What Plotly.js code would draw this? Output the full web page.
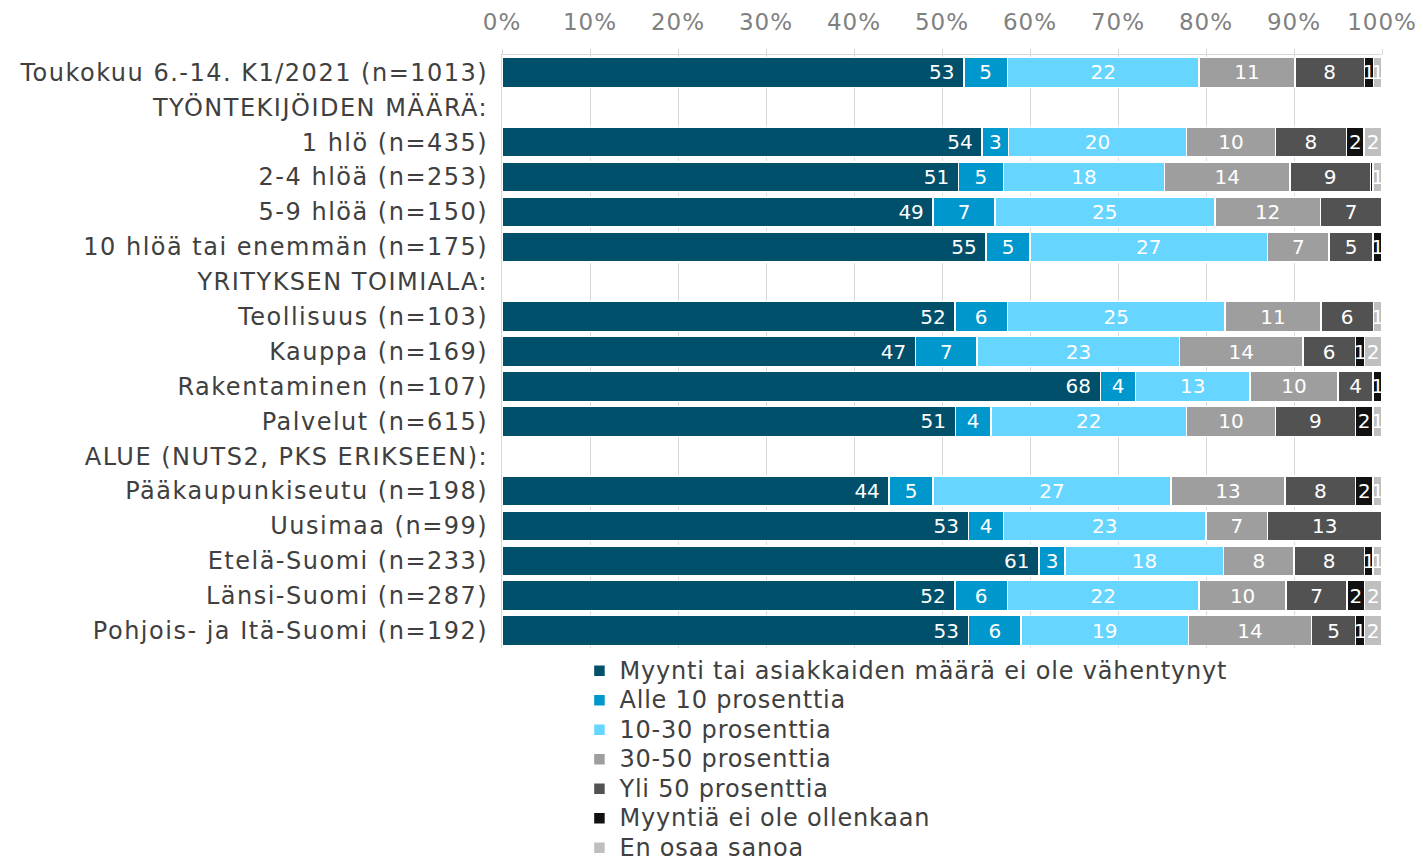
<!DOCTYPE html>
<html>
<head>
<meta charset="utf-8">
<script src="https://cdn.plot.ly/plotly-3.0.1.min.js"></script>
<style>
html,body{margin:0;padding:0;background:#fff;}
#chart{width:1423px;height:858px;}
#chart .legendtext{font-size:24px !important;letter-spacing:0.8px;}
#chart .legend .scrollbox{clip-path:none !important;}
#chart g.ytick text{letter-spacing:1.5px;}
#chart g.xtick text{letter-spacing:1px;}
</style>
</head>
<body>
<div id="chart"></div>
<script>
const categories = [
  "Toukokuu 6.-14. K1/2021 (n=1013)",
  "TYÖNTEKIJÖIDEN MÄÄRÄ:",
  "1 hlö (n=435)",
  "2-4 hlöä (n=253)",
  "5-9 hlöä (n=150)",
  "10 hlöä tai enemmän (n=175)",
  "YRITYKSEN TOIMIALA:",
  "Teollisuus (n=103)",
  "Kauppa (n=169)",
  "Rakentaminen (n=107)",
  "Palvelut (n=615)",
  "ALUE (NUTS2, PKS ERIKSEEN):",
  "Pääkaupunkiseutu (n=198)",
  "Uusimaa (n=99)",
  "Etelä-Suomi (n=233)",
  "Länsi-Suomi (n=287)",
  "Pohjois- ja Itä-Suomi (n=192)"
];
const seriesNames = [
  "Myynti tai asiakkaiden määrä ei ole vähentynyt",
  "Alle 10 prosenttia",
  "10-30 prosenttia",
  "30-50 prosenttia",
  "Yli 50 prosenttia",
  "Myyntiä ei ole ollenkaan",
  "En osaa sanoa"
];
const eiVahentynyt = [53,null,54,51,49,55,null,52,47,68,51,null,44,53,61,52,53];
const alle10       = [5,null,3,5,7,5,null,6,7,4,4,null,5,4,3,6,6];
const p10_30       = [22,null,20,18,25,27,null,25,23,13,22,null,27,23,18,22,19];
const p30_50       = [11,null,10,14,12,7,null,11,14,10,10,null,13,7,8,10,14];
const yli50        = [8,null,8,9,7,5,null,6,6,4,9,null,8,13,8,7,5];
const eiOllenkaan  = [1,null,2,0.3,null,1,null,null,1,1,2,null,2,null,1,2,1];
const enOsaa       = [1,null,2,1,null,null,null,1,2,null,1,null,1,null,1,2,2];
const seriesValues = [eiVahentynyt, alle10, p10_30, p30_50, yli50, eiOllenkaan, enOsaa];
const colors = ["#004F6B","#0097CC","#66D5FF","#9E9E9E","#525252","#111111","#BFBFBF"];
const xTickVals = [0,10,20,30,40,50,60,70,80,90,100];
const xTickText = ["0%","10%","20%","30%","40%","50%","60%","70%","80%","90%","100%"];

const FONT = "DejaVu Sans, Verdana, sans-serif";
const traces = seriesNames.map((name, i) => ({
  type: "bar",
  orientation: "h",
  name: name,
  y: categories,
  x: seriesValues[i],
  text: seriesValues[i].map(v => (v === null || v < 0.5) ? "" : String(Math.round(v))),
  texttemplate: i === 0 ? "%{text}\u00a0" : "%{text}",
  textposition: "inside",
  insidetextanchor: i === 0 ? "end" : "middle",
  textangle: 0,
  textfont: {family: FONT, size: 20, color: "#ffffff"},
  marker: {color: colors[i], line: {color: "#ffffff", width: 1.5}},
  hoverinfo: "name+x"
}));

const layout = {
  width: 1423, height: 858,
  paper_bgcolor: "#ffffff", plot_bgcolor: "#ffffff",
  barmode: "stack",
  barnorm: "percent",
  bargap: 0.14,
  margin: {l: 502, r: 41, t: 55, b: 210, autoexpand: false},
  font: {family: FONT, color: "#404040"},
  uniformtext: {mode: "show", minsize: 20},
  showlegend: true,
  legend: {
    x: 0.088, y: -0.005, xanchor: "left", yanchor: "top",
    orientation: "v", traceorder: "normal",
    font: {family: FONT, size: 20.4, color: "#404040"},
    itemwidth: 30, tracegroupgap: 0, bgcolor: "rgba(0,0,0,0)"
  },
  xaxis: {
    side: "top", range: [0, 100],
    tickvals: xTickVals, ticktext: xTickText,
    tickfont: {family: FONT, size: 23, color: "#808080"},
    ticklabelstandoff: 10,
    showgrid: true, gridcolor: "#D9D9D9", gridwidth: 1,
    showline: true, linecolor: "#D9D9D9", linewidth: 1,
    ticks: "outside", ticklen: 5, tickcolor: "#D9D9D9",
    zeroline: false, fixedrange: true
  },
  yaxis: {
    type: "category", autorange: "reversed",
    tickfont: {family: FONT, size: 24, color: "#404040"},
    showline: true, linecolor: "#D9D9D9", linewidth: 1,
    ticks: "", ticklabelstandoff: 8,
    showgrid: false, zeroline: false, fixedrange: true
  }
};
Plotly.newPlot("chart", traces, layout, {displayModeBar: false, staticPlot: true});
</script>
</body>
</html>
